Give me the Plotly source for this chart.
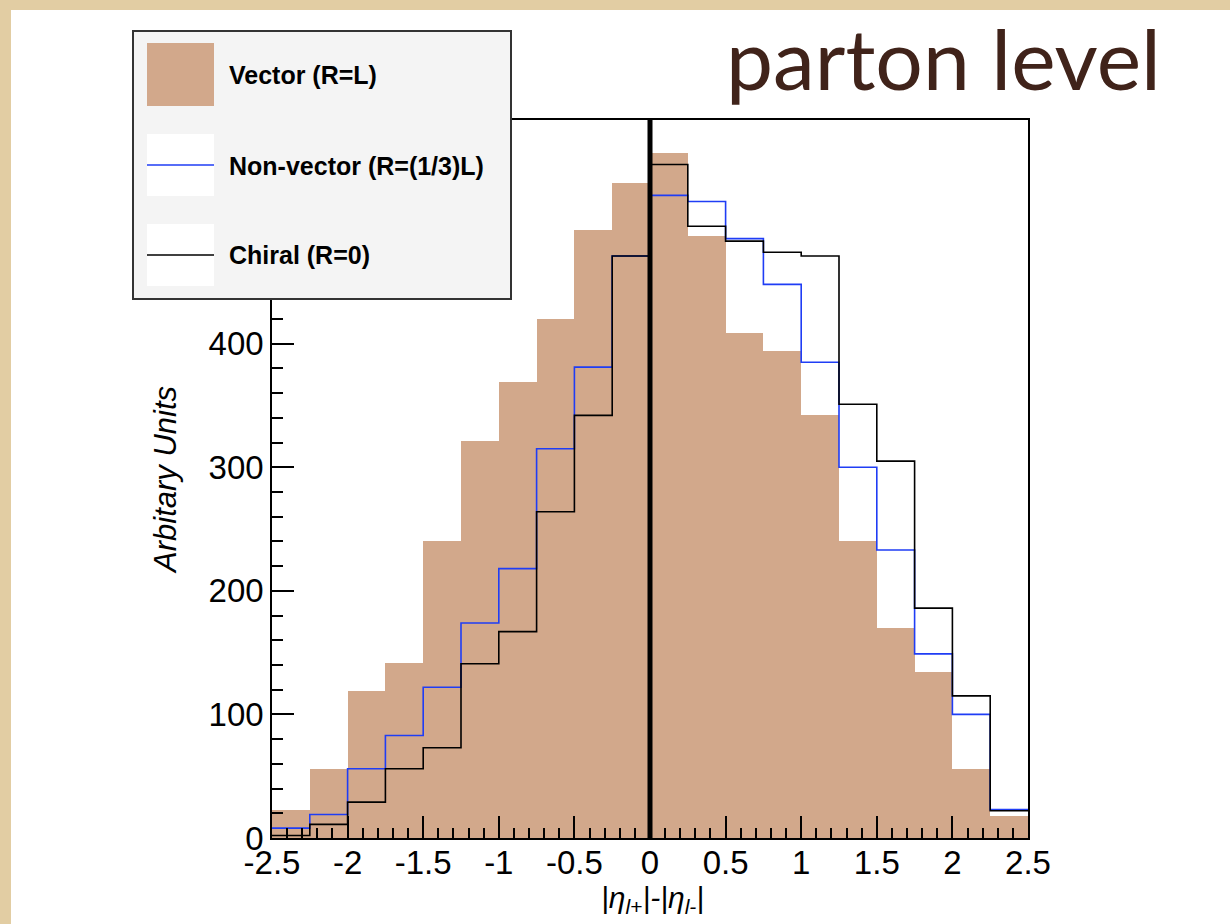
import plotly.graph_objects as go

# ---------------- data ----------------
bin_edges = [-2.5 + 0.25 * i for i in range(21)]
bin_centers = [(bin_edges[i] + bin_edges[i + 1]) / 2 for i in range(20)]

vector = [23, 56, 119, 142, 240, 321, 369, 420, 492, 530,
          554, 487, 409, 394, 342, 240, 170, 134, 56, 18]
nonvector = [8, 19, 56, 83, 122, 174, 218, 315, 381, 471,
             520, 515, 485, 448, 385, 300, 233, 149, 100, 23]
chiral = [2, 11, 29, 56, 73, 141, 167, 264, 342, 471,
          545, 495, 483, 474, 471, 351, 305, 186, 115, 22]

series_names = ["Vector (R=L)", "Non-vector (R=(1/3)L)", "Chiral (R=0)"]
x_ticks = [-2.5, -2, -1.5, -1, -0.5, 0, 0.5, 1, 1.5, 2, 2.5]
x_ticklabels = ["-2.5", "-2", "-1.5", "-1", "-0.5", "0", "0.5", "1", "1.5", "2", "2.5"]
y_ticks = [0, 100, 200, 300, 400, 500]

# ---------------- styling ----------------
W, H = 1230, 924
L, R, T, B = 272, 1028, 120, 838
TAN = "#d2a88b"
BLUE = "#1f3df5"
INK = "#40231a"
FONT = "Liberation Sans, Arial, Helvetica, sans-serif"


def px(x):
    return (x - L) / (R - L)


def py(y):
    return (B - y) / (B - T)


fig = go.Figure()

fig.add_trace(go.Bar(x=bin_centers, y=vector, width=0.25, name=series_names[0],
                     marker=dict(color=TAN, line=dict(width=0)), showlegend=False))
fig.add_trace(go.Scatter(x=bin_edges, y=nonvector + [nonvector[-1]], mode="lines",
                         line=dict(color=BLUE, width=1.6, shape="hv"),
                         name=series_names[1], showlegend=False))
fig.add_trace(go.Scatter(x=bin_edges, y=chiral + [chiral[-1]], mode="lines",
                         line=dict(color="black", width=1.6, shape="hv"),
                         name=series_names[2], showlegend=False))

shapes = []
# white page over parchment
shapes.append(dict(type="rect", xref="paper", yref="paper", layer="below",
                   x0=px(11), x1=px(1235), y0=py(930), y1=py(10),
                   fillcolor="white", line=dict(width=0)))
# thick zero line
shapes.append(dict(type="line", xref="x", yref="paper", x0=0, x1=0, y0=0, y1=1,
                   line=dict(color="black", width=5)))
# legend box
shapes.append(dict(type="rect", xref="paper", yref="paper",
                   x0=px(133), x1=px(511), y0=py(299), y1=py(31),
                   fillcolor="#f4f4f4", line=dict(color="#333333", width=2)))
# legend swatches
shapes.append(dict(type="rect", xref="paper", yref="paper",
                   x0=px(147), x1=px(214), y0=py(106), y1=py(43),
                   fillcolor=TAN, line=dict(width=0)))
shapes.append(dict(type="rect", xref="paper", yref="paper",
                   x0=px(147), x1=px(214), y0=py(196), y1=py(134),
                   fillcolor="white", line=dict(width=0)))
shapes.append(dict(type="line", xref="paper", yref="paper",
                   x0=px(147), x1=px(214), y0=py(165), y1=py(165),
                   line=dict(color=BLUE, width=1.6)))
shapes.append(dict(type="rect", xref="paper", yref="paper",
                   x0=px(147), x1=px(214), y0=py(286), y1=py(224),
                   fillcolor="white", line=dict(width=0)))
shapes.append(dict(type="line", xref="paper", yref="paper",
                   x0=px(147), x1=px(214), y0=py(255), y1=py(255),
                   line=dict(color="black", width=1.6)))

annotations = []
for name, yc in zip(series_names, [75, 166, 255]):
    annotations.append(dict(xref="paper", yref="paper", x=px(227), y=py(yc),
                            xanchor="left", yanchor="middle", showarrow=False,
                            text="<b>%s</b>" % name,
                            font=dict(family=FONT, size=25, color="black")))
annotations.append(dict(xref="paper", yref="paper", x=px(165), y=py(480),
                        xanchor="center", yanchor="middle", showarrow=False,
                        textangle=-90, text="<i>Arbitary Units</i>",
                        font=dict(family=FONT, size=31, color="black")))
annotations.append(dict(xref="paper", yref="paper", x=px(652), y=py(899),
                        xanchor="center", yanchor="middle", showarrow=False,
                        text="<i>|η<sub>l+</sub>|-|η<sub>l-</sub>|</i>",
                        font=dict(family=FONT, size=30, color="black")))
annotations.append(dict(xref="paper", yref="paper", x=px(943), y=py(58),
                        xanchor="center", yanchor="middle", showarrow=False,
                        text="parton level",
                        font=dict(family="Lato, Open Sans, sans-serif", size=84, color=INK)))

fig.update_layout(
    width=W, height=H,
    margin=dict(l=L, r=W - R, t=T, b=H - B, pad=0),
    paper_bgcolor="#e2cda3",
    plot_bgcolor="white",
    bargap=0,
    showlegend=False,
    shapes=shapes,
    annotations=annotations,
    font=dict(family=FONT, size=33, color="black"),
)
fig.update_xaxes(range=[-2.5, 2.5], showgrid=False, zeroline=False,
                 showline=True, mirror=True, linecolor="black", linewidth=1.5,
                 ticks="inside", ticklen=22, tickwidth=1.5, tickcolor="black",
                 tickvals=x_ticks, ticktext=x_ticklabels, ticklabelstandoff=-5,
                 tickfont=dict(family=FONT, size=33, color="black"),
                 minor=dict(dtick=0.1, tick0=-2.5, ticks="inside", ticklen=10,
                            tickwidth=1.5, tickcolor="black", showgrid=False))
fig.update_yaxes(range=[0, 581], showgrid=False, zeroline=False,
                 showline=True, mirror=True, linecolor="black", linewidth=1.5,
                 ticks="inside", ticklen=22, tickwidth=1.5, tickcolor="black",
                 tickvals=y_ticks,
                 tickfont=dict(family=FONT, size=33, color="black"),
                 minor=dict(dtick=20, tick0=0, ticks="inside", ticklen=11,
                            tickwidth=1.5, tickcolor="black", showgrid=False))

fig.write_html("out.html")
